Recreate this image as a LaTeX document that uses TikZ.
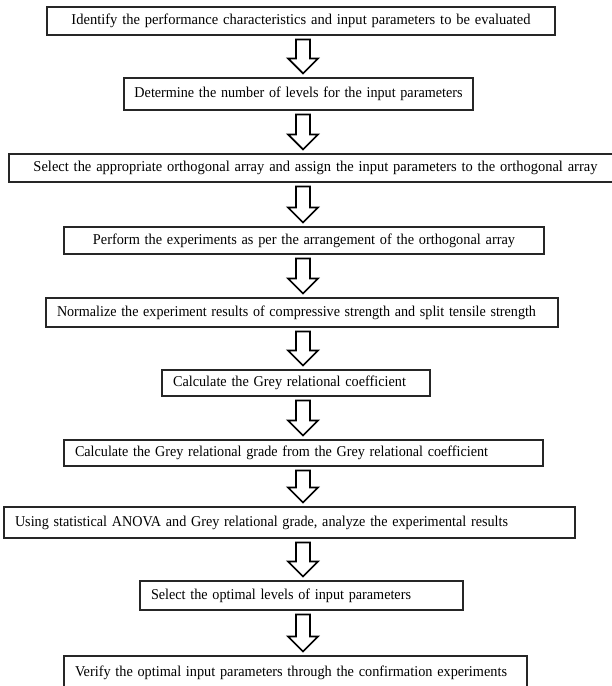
\documentclass[tikz,border=0pt]{standalone}
\usepackage{fontspec}
\setmainfont[WordSpace=0.7]{Liberation Serif}
\usepackage{graphicx}
\usetikzlibrary{calc}
\newcommand\fitw[2]{\resizebox{#1pt}{\height}{#2}}
\newcommand\blkarrow[2]{%
  \draw[blockarrow] let \p1=(#1.south), \p2=(#2.north) in
    (296pt,\y1-4pt) -- (310pt,\y1-4pt) -- (310pt,\y2+19pt) -- (318pt,\y2+19pt)
    -- (303pt,\y2+4pt) -- (288pt,\y2+19pt) -- (296pt,\y2+19pt) -- cycle;}
\begin{document}
\begin{tikzpicture}[x=1pt,y=-1pt,
  box/.style={draw=black!85, line width=1.1pt, fill=white, inner ysep=0pt,
    font=\fontsize{15}{17}\selectfont},
  lbox/.style 2 args={box, inner xsep=11pt, text width=#1pt-22pt, minimum width=#1pt,
    minimum height=#2pt, align=left},
  cbox/.style 2 args={box, inner xsep=4pt, text width=#1pt-8pt, minimum width=#1pt,
    minimum height=#2pt, align=center},
  blockarrow/.style={draw=black, line width=1.7pt, fill=white, line join=miter}]
\useasboundingbox (0,0) rectangle (612,686);
\fill[white] (0,0) rectangle (612,686);
\node[cbox={508}{28}] (b1) at (301,21)
  {\fitw{459}{Identify the performance characteristics and input parameters to be evaluated}};
\node[cbox={349}{32}] (b2) at (298.5,94)
  {\fitw{328}{Determine the number of levels for the input parameters}};
\node[cbox={613}{28}] (b3) at (315.5,168)
  {\fitw{564}{Select the appropriate orthogonal array and assign the input parameters to the orthogonal array}};
\node[cbox={480}{27}] (b4) at (304,240.5)
  {\fitw{422}{Perform the experiments as per the arrangement of the orthogonal array}};
\node[lbox={512}{29}] (b5) at (302,312.5)
  {\fitw{479}{Normalize the experiment results of compressive strength and split tensile strength}};
\node[lbox={268}{26}] (b6) at (296,383)
  {\fitw{233}{Calculate the Grey relational coefficient}};
\node[lbox={479}{26}] (b7) at (303.5,453)
  {\fitw{413}{Calculate the Grey relational grade from the Grey relational coefficient}};
\node[lbox={571}{31}] (b8) at (289.5,522.5)
  {\fitw{493}{Using statistical ANOVA and Grey relational grade, analyze the experimental results}};
\node[lbox={323}{29}] (b9) at (301.5,595.5)
  {\fitw{260}{Select the optimal levels of input parameters}};
\node[lbox={463}{34}] (b10) at (295.5,673)
  {\fitw{432}{Verify the optimal input parameters through the confirmation experiments}};
\blkarrow{b1}{b2}
\blkarrow{b2}{b3}
\blkarrow{b3}{b4}
\blkarrow{b4}{b5}
\blkarrow{b5}{b6}
\blkarrow{b6}{b7}
\blkarrow{b7}{b8}
\blkarrow{b8}{b9}
\blkarrow{b9}{b10}
\end{tikzpicture}
\end{document}
